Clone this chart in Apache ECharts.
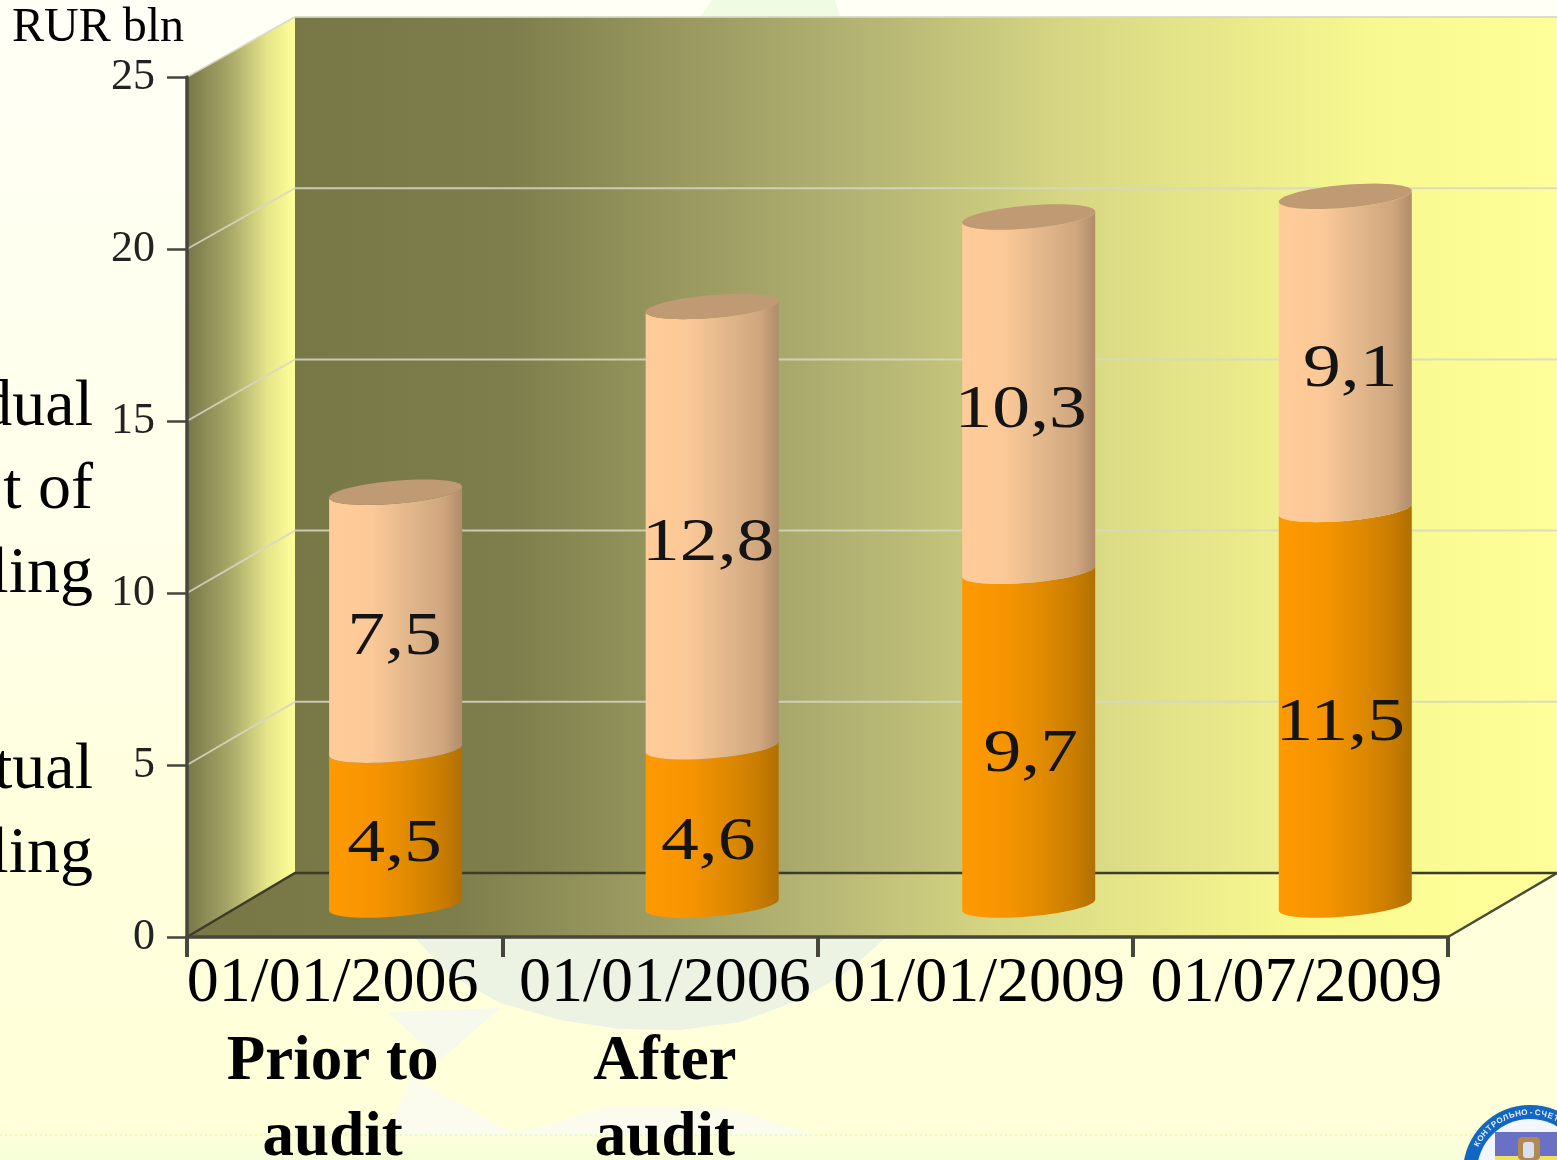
<!DOCTYPE html>
<html>
<head>
<meta charset="utf-8">
<style>html,body{margin:0;padding:0;background:#FFFFE8;overflow:hidden}#chart{width:1557px;height:1160px}</style>
<script src="https://cdn.jsdelivr.net/npm/echarts@6/dist/echarts.min.js"></script>
</head>
<body>
<div id="chart"></div>
<script>
const dateLabels = ['01/01/2006', '01/01/2006', '01/01/2009', '01/07/2009'];
const noteLabels = [['Prior to', 'audit'], ['After', 'audit'], [], []];
const lowerValues = [4.5, 4.6, 9.7, 11.5];
const upperValues = [7.5, 12.8, 10.3, 9.1];
const yTicks = [0, 5, 10, 15, 20, 25];
const sideFragments = [['dual', 375], ['t of', 458], ['ling', 542], ['tual', 738], ['ling', 822]];
const unitLabel = 'RUR bln';
const sealText = 'КОНТРОЛЬНО-СЧЕТНАЯ';

const SERIF = '"Liberation Serif", "Times New Roman", serif';
const DEPTH_X = 108, FLOOR_DY = 64, BAR_DY = 32, RX = 66.5, RY = 11.5, SKEW = 5.5;
const labelNudge = [[-1, -1], [-4, -4], [2, -8], [-5, 5]];
const dateNudge = [{padding: [0, 24, 0, 0]}, {padding: [0, 0, 0, 10]}, {padding: [0, 0, 0, 8]}, {padding: [0, 0, 0, 12]}];

const wallFill = (x0, x1, w) => ({
  type: 'linear', global: true, x: x0, y: 0, x2: x1, y2: 0,
  colorStops: [
    {offset: 0, color: '#787846'}, {offset: .17, color: '#7E7E4C'}, {offset: .45, color: '#B4B474'},
    {offset: .62, color: '#D8D884'}, {offset: .85, color: '#F8F890'}, {offset: 1, color: '#FFFF99'}
  ]
});
const sideFill = (x0, x1) => ({
  type: 'linear', global: true, x: x0, y: 0, x2: x1, y2: 0,
  colorStops: [{offset: 0, color: '#767648'}, {offset: .4, color: '#A8A868'}, {offset: .75, color: '#E6E68A'}, {offset: 1, color: '#FFFF99'}]
});

function renderWalls(params, api) {
  const cs = params.coordSys;
  const x0 = cs.x, x1 = cs.x + cs.width, yB = cs.y + cs.height, yT = cs.y;
  const backY = v => {
    const y = api.coord([0, v])[1];
    return yB - FLOOR_DY + (y - yB) * 856 / 860;
  };
  const bx0 = x0 + DEPTH_X, bx1 = x1 + DEPTH_X + 1;
  const children = [
    {type: 'polygon', shape: {points: [[x0, yT], [bx0, backY(25)], [bx0, backY(0)], [x0, yB]]}, style: {fill: sideFill(x0, bx0)}},
    {type: 'rect', shape: {x: bx0, y: backY(25), width: bx1 - bx0, height: backY(0) - backY(25)}, style: {fill: wallFill(bx0, bx1)}},
    {type: 'polygon', shape: {points: [[x0, yB], [bx0, backY(0)], [bx1, backY(0)], [x1, yB]]}, style: {fill: wallFill(x0 + 60, bx1 - 80)}},
  ];
  yTicks.forEach(v => {
    if (v === 0) return;
    const y = api.coord([0, v])[1];
    children.push({type: 'polyline', shape: {points: [[x0, y], [bx0, backY(v)], [bx1, backY(v)]]},
      style: {fill: null, stroke: 'rgba(215,215,195,0.85)', lineWidth: 2}});
  });
  children.push({type: 'polyline', shape: {points: [[x0, yB], [bx0, backY(0)], [bx1, backY(0)]]},
    style: {fill: null, stroke: '#3c3c28', lineWidth: 2.5}});
  children.push({type: 'line', shape: {x1: x1, y1: yB, x2: bx1, y2: backY(0)}, style: {stroke: '#4a4a38', lineWidth: 2.5}});
  return {type: 'group', children};
}

function arc(cx, cy, from, to, n) {
  const pts = [];
  for (let i = 0; i <= n; i++) {
    const t = from + (to - from) * i / n;
    pts.push([cx + RX * Math.cos(t), cy + RY * Math.sin(t) - SKEW * Math.cos(t)]);
  }
  return pts;
}

const peach = {type: 'linear', x: 0, y: 0, x2: 1, y2: 0, colorStops: [
  {offset: 0, color: '#FFCC99'}, {offset: .33, color: '#FBC897'}, {offset: .62, color: '#E0B68A'},
  {offset: .86, color: '#CFA67E'}, {offset: 1, color: '#B08C6A'}]};
const orange = {type: 'linear', x: 0, y: 0, x2: 1, y2: 0, colorStops: [
  {offset: 0, color: '#FF9900'}, {offset: .35, color: '#F59400'}, {offset: .65, color: '#DC8800'},
  {offset: .85, color: '#C87C00'}, {offset: 1, color: '#B07000'}]};

function cylinderItem(fill, withTop) {
  return function (params, api) {
    const i = api.value(0);
    const a = api.coord([i, api.value(1)]);
    const b = api.coord([i, api.value(2)]);
    const cx = a[0] + 51 + 1.3 * i;
    const y0 = a[1] - BAR_DY, y1 = b[1] - BAR_DY;
    const lower = arc(cx, y0, 0, Math.PI, 28);
    const upper = arc(cx, y1, Math.PI, 0, 28);
    const nudge = labelNudge[i][withTop ? 1 : 0];
    const children = [
      {type: 'polygon', shape: {points: lower.concat(upper)}, style: {fill}}
    ];
    if (withTop) {
      children.push({type: 'polygon', shape: {points: arc(cx, y1, 0, Math.PI * 2, 56)}, style: {fill: '#C09A72'}});
    }
    const v = api.value(3);
    children.push({
      type: 'text', x: cx + nudge, y: (y0 + y1) / 2 + 17, scaleX: 1.22, scaleY: 1, z2: 10,
      style: {text: String(v).replace('.', ','), x: 0, y: 0, align: 'center', verticalAlign: 'middle',
        fontFamily: SERIF, fontSize: 62, fill: '#141414'}
    });
    return {type: 'group', children};
  };
}

function rows(values, bases) {
  return values.map((v, i) => [i, bases[i], bases[i] + v, v]);
}

const sealGlyphs = Array.from(sealText).map((ch, i) => {
  const ang = (-152 + i * 6.3) * Math.PI / 180;
  return {type: 'text', x: 1530 + 59.5 * Math.cos(ang), y: 1172 + 59.5 * Math.sin(ang), rotation: -(ang + Math.PI / 2), z: 3,
    style: {text: ch, align: 'center', verticalAlign: 'middle', fontSize: 8, fontWeight: 'bold', fontFamily: 'Liberation Sans', fill: '#E8F0FF'}};
});

const option = {
  animation: false,
  backgroundColor: {type: 'linear', x: 0, y: 0, x2: 0, y2: 1, colorStops: [
    {offset: 0, color: '#FFFFF6'}, {offset: .45, color: '#FFFFEA'}, {offset: .75, color: '#FFFFDC'},
    {offset: .975, color: '#FFFFDA'}, {offset: 1, color: '#F6FFD8'}]},
  grid: {left: 187, top: 77, width: 1261, height: 860, outerBoundsMode: 'none'},
  graphic: {elements: [
    {type: 'polygon', shape: {points: [[700, 17], [712, 0], [835, 0], [840, 17]]}, style: {fill: '#F0FBE4'}},
    {type: 'polygon', shape: {points: [[415, 938], [450, 975], [500, 1003], [560, 1020], [620, 1029], [680, 1030], [740, 1022], [800, 1000], [850, 970], [885, 938]]}, style: {fill: '#EDF3E2'}},
    {type: 'polygon', shape: {points: [[388, 1012], [500, 1008], [440, 1060]]}, style: {fill: '#F6F9EC'}},
    {type: 'polygon', shape: {points: [[387, 1135], [412, 1077], [512, 1133], [560, 1122], [601, 1107], [726, 1107], [815, 1135]]}, style: {fill: '#FBFCEE'}},
    {type: 'line', shape: {x1: 0, y1: 1135, x2: 1475, y2: 1135}, style: {stroke: '#DDFCB4', lineWidth: 1.5, lineDash: [2, 3]}},
    {type: 'circle', shape: {cx: 1530, cy: 1172, r: 67}, style: {fill: '#1266C4'}, z: 2},
    {type: 'circle', shape: {cx: 1530, cy: 1172, r: 53}, style: {fill: '#F2F6FF'}, z: 2},
    {type: 'rect', shape: {x: 1495, y: 1132, width: 62, height: 28}, style: {fill: '#6A70C4'}, z: 2},
    {type: 'rect', shape: {x: 1495, y: 1156, width: 62, height: 4}, style: {fill: '#F0E060'}, z: 2},
    {type: 'rect', shape: {x: 1518, y: 1137, width: 22, height: 23, r: 4}, style: {fill: '#B08A50'}, z: 3},
    {type: 'rect', shape: {x: 1523, y: 1142, width: 11, height: 16, r: 3}, style: {fill: '#D8E0F0'}, z: 3},
    ...sealGlyphs,
    ...sideFragments.map(([t, y]) => ({type: 'text', x: 93, y, z: 6,
      style: {text: t, align: 'right', verticalAlign: 'top', fontFamily: SERIF, fontSize: 66, fill: '#000'}}))
  ]},
  xAxis: {
    type: 'category', z: 5,
    data: dateLabels.map((d, i) => ({value: [d].concat(noteLabels[i]).join('\n'), textStyle: dateNudge[i]})),
    boundaryGap: true,
    axisLine: {lineStyle: {color: '#46463c', width: 3.5}},
    axisTick: {show: true, length: 20, alignWithLabel: false, lineStyle: {color: '#46463c', width: 4}},
    axisLabel: {
      interval: 0, margin: 6, color: '#000', fontFamily: SERIF,
      formatter: (val) => {
        const parts = val.split('\n');
        return ['{d|' + parts[0] + '}'].concat(parts.slice(1).map(p => '{n|' + p + '}')).join('\n');
      },
      rich: {
        d: {fontFamily: SERIF, fontSize: 64, lineHeight: 82, color: '#000'},
        n: {fontFamily: SERIF, fontSize: 63, fontWeight: 'bold', lineHeight: 76, color: '#000'}
      }
    }
  },
  yAxis: {
    type: 'value', min: 0, max: 25, interval: 5, z: 5,
    name: unitLabel, nameLocation: 'end', nameGap: 21,
    nameTextStyle: {fontFamily: SERIF, fontSize: 48, color: '#000', align: 'right', verticalAlign: 'bottom', padding: [0, 3, 0, 0], lineHeight: 54},
    splitLine: {show: false},
    axisLine: {show: true, lineStyle: {color: '#46463c', width: 3.5}},
    axisTick: {show: true, length: 20, lineStyle: {color: '#46463c', width: 2.5}},
    axisLabel: {margin: 32, fontFamily: SERIF, fontSize: 44, color: '#222'}
  },
  series: [
    {type: 'custom', z: 1, silent: true, clip: false, data: [[0, 0]], encode: {x: 0, y: 1}, renderItem: renderWalls},
    {type: 'custom', name: 'Actual', z: 3, clip: false, data: rows(lowerValues, [0, 0, 0, 0]), encode: {x: 0, y: [1, 2]}, renderItem: cylinderItem(orange, false)},
    {type: 'custom', name: 'Residual', z: 3, clip: false, data: rows(upperValues, lowerValues), encode: {x: 0, y: [1, 2]}, renderItem: cylinderItem(peach, true)}
  ]
};
const chart = echarts.init(document.getElementById('chart'), null, {renderer: 'canvas', width: 1557, height: 1160});
chart.setOption(option);
</script>
</body>
</html>
